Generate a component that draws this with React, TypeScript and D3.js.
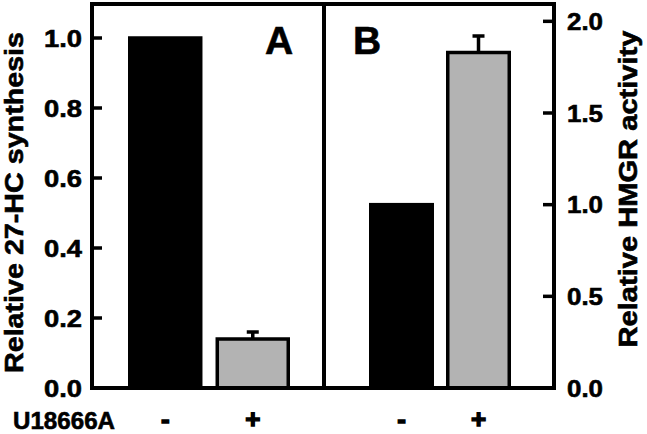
import React from 'react';
import * as d3 from 'd3';

const categories = ['-', '+'];
const synthesis27HC = [1.0, 0.14];
const synthesisErr = [0, 0.02];
const hmgrActivity = [1.0, 1.83];
const hmgrErr = [0, 0.09];
const leftTicks = [0, 0.2, 0.4, 0.6, 0.8, 1.0];
const rightTicks = [0, 0.5, 1.0, 1.5, 2.0];
const barColors = ['#000000', '#b3b3b3'];

const W = 647, H = 434;
const FONT = 'Arial, "Liberation Sans", Helvetica, sans-serif';
const xLeft = 92, xMid = 324, xRight = 554, yTop = 4, yBot = 388;
const SW = 4;

const txt = { fontWeight: 700, stroke: '#000', strokeWidth: 0.6 } as React.CSSProperties;

export default function App() {
  const yL = d3.scaleLinear().domain([0, 1.1]).range([yBot, 3]);
  const yR = d3.scaleLinear().domain([0, 2.1]).range([yBot, 3]);
  const xA = d3.scaleBand<string>().domain(categories).range([128, 290]).paddingInner(0.149).paddingOuter(0);
  const xB = d3.scaleBand<string>().domain(categories).range([369, 511]).paddingInner(0.156).paddingOuter(0);
  const fmt = d3.format('.1f');

  const panel = (x: d3.ScaleBand<string>, y: d3.ScaleLinear<number, number>, vals: number[], errs: number[]) =>
    categories.map((c, i) => {
      const bx = (x(c) as number) + 1.75;
      const bw = x.bandwidth() - 3.5;
      const top = y(vals[i]);
      const cx = (x(c) as number) + x.bandwidth() / 2;
      return (
        <g key={c}>
          {errs[i] > 0 && (
            <g stroke="#000" strokeWidth={3.5}>
              <line x1={cx} x2={cx} y1={top} y2={y(vals[i] + errs[i])} />
              <line x1={cx - 6} x2={cx + 6} y1={y(vals[i] + errs[i])} y2={y(vals[i] + errs[i])} />
            </g>
          )}
          <rect x={bx} y={top} width={bw} height={yBot - top} fill={barColors[i]} stroke="#000" strokeWidth={3.5} />
        </g>
      );
    });

  return (
    <svg width={W} height={H} style={{ position: 'absolute', left: 0, top: 0, background: '#fff' }} fontFamily={FONT}>
      <rect x={0} y={0} width={W} height={H} fill="#fff" />
      {panel(xA, yL, synthesis27HC, synthesisErr)}
      {panel(xB, yR, hmgrActivity, hmgrErr)}
      <g stroke="#000" strokeWidth={SW} fill="none">
        <line x1={xLeft} x2={xLeft} y1={yTop - SW / 2} y2={yBot + SW / 2} />
        <line x1={xRight} x2={xRight} y1={yTop - SW / 2} y2={yBot + SW / 2} />
        <line x1={xMid} x2={xMid} y1={yTop} y2={yBot} />
        <line x1={xLeft} x2={xRight} y1={yTop} y2={yTop} />
        <line x1={xLeft} x2={xRight} y1={yBot} y2={yBot} />
      </g>
      {leftTicks.map((t) => (
        <g key={'l' + t}>
          <line x1={xLeft} x2={xLeft + 10} y1={yL(t)} y2={yL(t)} stroke="#000" strokeWidth={3.5} />
          <text x={82} y={yL(t)} dy="0.36em" textAnchor="end" fontSize={24} style={txt} textLength={38} lengthAdjust="spacingAndGlyphs">{fmt(t)}</text>
        </g>
      ))}
      {rightTicks.map((t) => (
        <g key={'r' + t}>
          <line x1={xRight - 11} x2={xRight} y1={yR(t)} y2={yR(t)} stroke="#000" strokeWidth={3.5} />
          <text x={567} y={yR(t)} dy="0.36em" textAnchor="start" fontSize={24} style={txt} textLength={36} lengthAdjust="spacingAndGlyphs">{fmt(t)}</text>
        </g>
      ))}
      <text transform="translate(23,202.5) rotate(-90)" textAnchor="middle" fontSize={25} style={txt} textLength={341} lengthAdjust="spacingAndGlyphs">Relative 27-HC synthesis</text>
      <text transform="translate(637,189) rotate(-90)" textAnchor="middle" fontSize={25} style={txt} textLength={317} lengthAdjust="spacingAndGlyphs">Relative HMGR activity</text>
      <text x={265} y={54} fontSize={39} style={txt}>A</text>
      <text x={353} y={54} fontSize={39} style={txt}>B</text>
      <text x={13} y={429} fontSize={24} style={txt} textLength={102} lengthAdjust="spacingAndGlyphs">U18666A</text>
      {categories.map((c) => (
        <g key={'c' + c}>
          <text x={(xA(c) as number) + xA.bandwidth() / 2} y={428} textAnchor="middle" fontSize={26} style={{ ...txt, strokeWidth: 1.4 }}>{c}</text>
          <text x={(xB(c) as number) + xB.bandwidth() / 2} y={428} textAnchor="middle" fontSize={26} style={{ ...txt, strokeWidth: 1.4 }}>{c}</text>
        </g>
      ))}
    </svg>
  );
}
